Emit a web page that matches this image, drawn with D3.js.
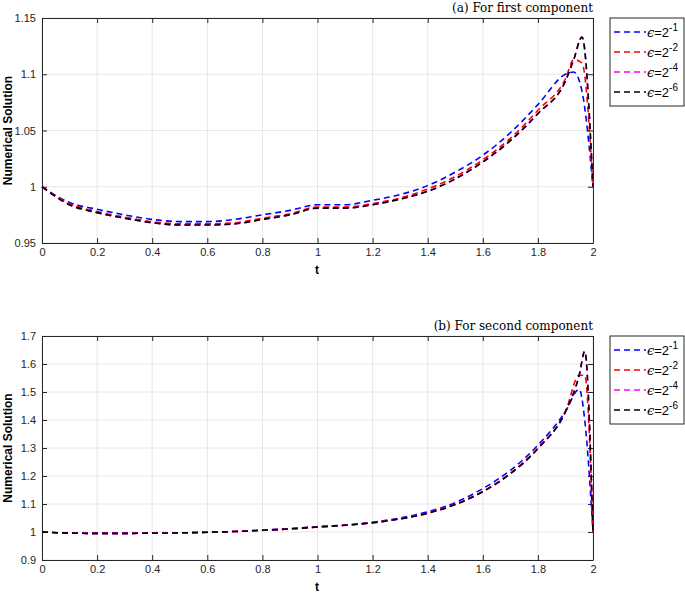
<!DOCTYPE html><html><head><meta charset="utf-8">
<script src="https://cdn.jsdelivr.net/npm/d3@7"></script>
<style>body{margin:0;background:#fff}</style></head><body><svg id="c" width="685" height="595"></svg>
<script>
const tA=[0,0.1,0.2,0.3,0.4,0.5,0.6,0.7,0.8,0.9,1.0,1.1,1.2,1.3,1.4,1.5,1.6,1.7,1.8,1.9,1.93,1.96,2];
const tB=[0,0.1,0.2,0.3,0.4,0.5,0.6,0.7,0.8,0.9,1.0,1.1,1.2,1.3,1.4,1.5,1.6,1.7,1.8,1.9,1.95,1.97,2];
const c1e1=[1,0.986,0.980,0.975,0.971,0.969,0.969,0.971,0.975,0.979,0.984,0.984,0.988,0.993,1.001,1.013,1.028,1.048,1.073,1.100,1.102,1.085,1.0];
const c1e2=[1,0.985,0.978,0.973,0.969,0.967,0.967,0.968,0.972,0.976,0.982,0.982,0.985,0.990,0.998,1.009,1.024,1.043,1.068,1.096,1.113,1.110,1.0];
const c1e4=[1,0.984,0.977,0.972,0.968,0.966,0.966,0.967,0.971,0.975,0.981,0.981,0.984,0.989,0.996,1.007,1.022,1.041,1.065,1.094,1.113,1.133,1.0];
const c1e6=[1,0.984,0.977,0.972,0.968,0.966,0.966,0.967,0.971,0.975,0.981,0.981,0.984,0.989,0.996,1.007,1.022,1.041,1.065,1.094,1.113,1.133,1.0];
const c2e1=[1,0.996,0.995,0.995,0.996,0.997,0.999,1.002,1.007,1.012,1.019,1.025,1.035,1.05,1.072,1.105,1.155,1.22,1.31,1.43,1.51,1.40,1.0];
const c2e2=[1,0.996,0.995,0.995,0.996,0.997,0.999,1.002,1.006,1.011,1.018,1.024,1.033,1.047,1.068,1.099,1.145,1.21,1.30,1.43,1.56,1.56,1.0];
const c2e4=[1,0.996,0.995,0.995,0.996,0.997,0.999,1.002,1.006,1.011,1.018,1.024,1.033,1.047,1.067,1.098,1.144,1.208,1.298,1.43,1.56,1.645,1.0];
const c2e6=c2e4;
const colors=["#0000ff","#ff0000","#ff00ff","#000000"];
const labels=["-1","-2","-4","-6"];
const xTicks=[0,0.2,0.4,0.6,0.8,1,1.2,1.4,1.6,1.8,2];
const yTicksA=[0.95,1,1.05,1.1,1.15];
const yTicksB=[0.9,1,1.1,1.2,1.3,1.4,1.5,1.6,1.7];
const svg=d3.select("#c");
function panel(top,bot,dom,yt,t,series,title,legTop){
 const x=d3.scaleLinear([0,2],[42,593]);
 const y=d3.scaleLinear(dom,[bot,top]);
 const g=svg.append("g");
 g.append("rect").attr("x",42).attr("y",top).attr("width",551).attr("height",bot-top).attr("fill","#fff");
 xTicks.forEach(v=>g.append("line").attr("x1",x(v)).attr("x2",x(v)).attr("y1",top).attr("y2",bot).attr("stroke","#e6e6e6"));
 yt.forEach(v=>g.append("line").attr("x1",42).attr("x2",593).attr("y1",y(v)).attr("y2",y(v)).attr("stroke","#e6e6e6"));
 const fmt=v=>String(+v.toFixed(2));
 g.append("g").attr("transform",`translate(0,${bot})`).call(d3.axisBottom(x).tickValues(xTicks).tickFormat(fmt).tickSizeInner(-5).tickSizeOuter(0).tickPadding(5));
 g.append("g").attr("transform",`translate(0,${top})`).call(d3.axisTop(x).tickValues(xTicks).tickFormat("").tickSizeInner(-5).tickSizeOuter(0));
 g.append("g").attr("transform",`translate(42,0)`).call(d3.axisLeft(y).tickValues(yt).tickFormat(fmt).tickSizeInner(-5).tickSizeOuter(0).tickPadding(6));
 g.append("g").attr("transform",`translate(593,0)`).call(d3.axisRight(y).tickValues(yt).tickFormat("").tickSizeInner(-5).tickSizeOuter(0));
 g.selectAll(".domain").attr("stroke","#262626");
 g.selectAll(".tick line").attr("stroke","#262626");
 g.selectAll(".tick text").attr("font-family","Liberation Sans, Arial").attr("font-size",11).attr("fill","#262626");
 series.forEach((s,i)=>{
  g.append("path").datum(s).attr("fill","none").attr("stroke",colors[i]).attr("stroke-width",1.6).attr("stroke-dasharray","6,4")
   .attr("d",d3.line().x((d,j)=>x(t[j])).y(d=>y(d)).curve(d3.curveMonotoneX));
 });
 g.append("text").attr("x",317).attr("y",bot+31).attr("text-anchor","middle").attr("font-family","Liberation Sans, Arial").attr("font-weight","bold").attr("font-size",12).text("t");
 g.append("text").attr("transform",`translate(12,${(top+bot)/2}) rotate(-90)`).attr("text-anchor","middle").attr("font-family","Liberation Sans, Arial").attr("font-weight","bold").attr("font-size",12).text("Numerical Solution");
 g.append("text").attr("x",593).attr("y",top-6).attr("text-anchor","end").attr("font-family","DejaVu Serif, Liberation Serif").attr("font-size",12).text(title);
 const lg=g.append("g");
 lg.append("rect").attr("x",610).attr("y",legTop).attr("width",74).attr("height",88).attr("fill","#fff").attr("stroke","#262626");
 labels.forEach((l,i)=>{
  const yy=legTop+14+i*20;
  lg.append("line").attr("x1",614).attr("x2",646).attr("y1",yy).attr("y2",yy).attr("stroke",colors[i]).attr("stroke-width",1.6).attr("stroke-dasharray","6,4");
  const tx=lg.append("text").attr("x",647).attr("y",yy+5).attr("font-family","Liberation Sans, Arial").attr("font-size",13);
  tx.append("tspan").attr("font-family","DejaVu Serif").attr("font-style","italic").text("ϵ");
  tx.append("tspan").text("=2");
  tx.append("tspan").attr("dy",-6).attr("font-size",10).text(l);
 });
}
panel(18,243,[0.95,1.15],yTicksA,tA,[c1e1,c1e2,c1e4,c1e6],"(a) For first component",18);
panel(336,560,[0.9,1.7],yTicksB,tB,[c2e1,c2e2,c2e4,c2e6],"(b) For second component",336);
</script></body></html>
